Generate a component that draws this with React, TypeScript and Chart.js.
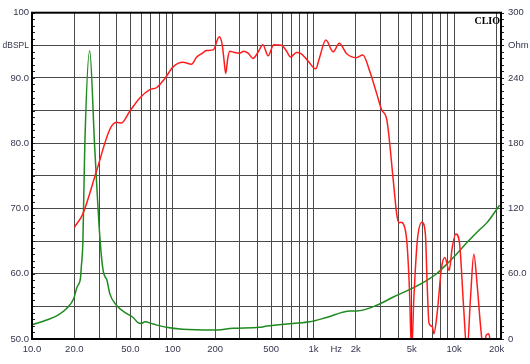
import React, { useEffect, useRef } from "react";
import { Chart, registerables } from "chart.js";

Chart.register(...registerables);

// SPL response (red), left axis dBSPL
const splFreq = [
  20, 23, 28.7, 35.7, 39.8, 43.2, 49.5, 58.2, 68.7, 76.6, 87.8, 100.5, 118, 136, 148, 160, 174, 194,
  214, 225, 232, 238, 246, 254, 275, 300, 320, 343, 372, 405, 437, 476, 522, 592, 640, 688, 757, 820,
  915, 1038, 1100, 1224, 1380, 1524, 1724, 2005, 2242, 2520, 2813, 3055, 3318, 3694, 3906, 4050, 4182,
  4360, 4600, 4800, 4980, 5170, 5470, 5900, 6240, 6410, 6620, 6990, 7170, 7560, 8130, 8580, 9200, 9680,
  10250, 10890, 11660, 12330, 13060, 13780, 14590, 15400, 16100, 16900, 17600, 18300, 19000,
];
const splDb = [
  67.1, 69.2, 75.7, 82.1, 83.2, 83.1, 84.9, 86.9, 88.2, 88.5, 89.9, 91.7, 92.4, 92.1, 93.2, 93.7, 94.2, 94.3,
  96.3, 95.0, 92.5, 90.7, 93.0, 94.1, 93.9, 93.8, 94.1, 93.8, 93.0, 94.0, 95.1, 93.4, 95.1, 95.0, 94.2, 93.2, 93.9, 93.7,
  92.6, 91.4, 93.0, 95.8, 94.0, 95.3, 93.7, 93.1, 93.5, 90.9, 87.6, 85.1, 83.6, 74.2, 69.1, 67.8, 67.9,
  67.6, 65.1, 58, 48, 56.4, 65.1, 67.9, 66.1, 59, 52.4, 51.9, 50.8, 53.9, 61.0, 62.5, 60.5, 64.0,
  66.1, 64.8, 54.9, 48, 56.4, 63.0, 58, 51.9, 48.5, 50.6, 50.8, 48.5, 47,
];

// Impedance (green), right axis Ohm
const impFreq = [
  10, 12.7, 15.3, 17.6, 19.8, 20.9, 21.6, 22.1, 22.4, 23, 23.7, 25.7, 27.9, 30.3, 32, 34.1, 35.7, 39.8,
  46.9, 52.3, 56.7, 60, 63.4, 72.5, 90, 118, 193, 269, 414, 465, 715, 941, 1238, 1823, 2030, 2813,
  3694, 5100, 6400, 7500, 8870, 10380, 12600, 15000, 17100, 21000,
];
const impOhm = [
  13, 17.4, 21.9, 28, 37.2, 47.8, 51, 56, 66, 90, 176, 265, 176, 95, 63, 54, 41.7, 31,
  23.5, 19.8, 15, 14.3, 15.8, 13.7, 10.7, 8.9, 8.2, 9.8, 10.7, 11.9, 14.3, 15.8, 19.8, 25.8, 25.8, 31,
  38.6, 47, 54, 60, 69, 78, 90, 100, 107, 123,
];

// Axis ticks
const xGridValues = [
  10, 20, 30, 40, 50, 60, 70, 80, 90, 100, 200, 300, 400, 500, 600, 700, 800, 900,
  1000, 1450, 2000, 3000, 4000, 5000, 6000, 7000, 8000, 9000, 10000, 20000,
];
const xLabelValues = [10, 20, 50, 100, 200, 500, 1000, 1450, 2000, 5000, 10000, 20000];
const xLabelTexts = ["10.0", "20.0", "50.0", "100", "200", "500", "1k", "Hz", "2k", "5k", "10k", "20k"];
const hzLabelValue = 1450;

const leftLabelValues = [100, 95, 90, 80, 70, 60, 50];
const leftLabelTexts = ["100", "dBSPL", "90.0", "80.0", "70.0", "60.0", "50.0"];
const rightLabelValues = [300, 270, 240, 180, 120, 60, 0];
const rightLabelTexts = ["300", "Ohm", "240", "180", "120", "60.0", "0"];

const FONT_FAMILY = '"Liberation Sans", Arial, sans-serif';
const FONT = { family: FONT_FAMILY, size: 9.5 };
const UNIT_FONT = { family: FONT_FAMILY, size: 8.5 };
const LABEL_COLOR = "#34364f";
const GRID_COLOR = "#4a4a4a";

const framePlugin = {
  id: "clioFrame",
  afterDraw(chart: any) {
    const { ctx, chartArea } = chart;
    const { left, right, top, bottom } = chartArea;
    const y = chart.scales.y;
    const y1 = chart.scales.y1;
    ctx.save();
    ctx.strokeStyle = "#222";
    ctx.lineWidth = 1;
    // minor ticks on left axis (inside)
    for (let v = 50; v <= 100; v += 1) {
      const py = Math.round(y.getPixelForValue(v)) + 0.5;
      ctx.beginPath();
      ctx.moveTo(left, py);
      ctx.lineTo(left + 3, py);
      ctx.stroke();
    }
    // minor ticks on right axis (outside)
    for (let v = 0; v <= 300; v += 6) {
      const py = Math.round(y1.getPixelForValue(v)) + 0.5;
      ctx.beginPath();
      ctx.moveTo(right, py);
      ctx.lineTo(right + 3, py);
      ctx.stroke();
    }
    // frame
    ctx.strokeStyle = "#000";
    ctx.lineWidth = 2;
    ctx.strokeRect(left, top, right - left, bottom - top);
    // CLIO mark
    ctx.fillStyle = "#000";
    ctx.font = 'bold 10px "Liberation Serif", "DejaVu Serif", serif';
    ctx.textAlign = "right";
    ctx.textBaseline = "top";
    ctx.fillText("CLIO", right - 1, top + 4);
    ctx.restore();
  },
};

export default function App() {
  const ref = useRef<HTMLCanvasElement | null>(null);

  useEffect(() => {
    if (!ref.current) return;
    const splData = splFreq.map((f, i) => ({ x: f, y: splDb[i] }));
    const impData = impFreq.map((f, i) => ({ x: f, y: impOhm[i] }));

    const chart = new Chart(ref.current, {
      type: "line",
      data: {
        datasets: [
          {
            label: "SPL",
            data: splData,
            borderColor: "#ff1c1c",
            borderWidth: 1.5,
            pointRadius: 0,
            cubicInterpolationMode: "monotone",
            yAxisID: "y",
          },
          {
            label: "Impedance",
            data: impData,
            borderColor: "#1f8a1f",
            borderWidth: 1.5,
            pointRadius: 0,
            cubicInterpolationMode: "monotone",
            yAxisID: "y1",
          },
        ],
      },
      options: {
        responsive: false,
        animation: false,
        devicePixelRatio: 1,
        parsing: false,
        layout: { padding: { top: 10, left: 0, right: 0, bottom: 0 } },
        plugins: {
          legend: { display: false },
          tooltip: { enabled: false },
        },
        scales: {
          x: {
            type: "logarithmic",
            min: 10,
            max: 21500,
            afterBuildTicks: (scale: any) => {
              scale.ticks = xGridValues.map((v) => ({ value: v }));
            },
            afterFit: (scale: any) => {
              scale.height = 25;
            },
            ticks: {
              autoSkip: false,
              maxRotation: 0,
              minRotation: 0,
              padding: 5,
              color: LABEL_COLOR,
              font: FONT,
              callback: (value: any) => {
                const i = xLabelValues.indexOf(Number(value));
                return i >= 0 ? xLabelTexts[i] : "";
              },
            },
            grid: {
              drawTicks: false,
              lineWidth: 1,
              color: (c: any) =>
                c.tick && (c.tick.value === hzLabelValue || c.tick.value === 10)
                  ? "rgba(0,0,0,0)"
                  : GRID_COLOR,
            },
            border: { display: false },
          },
          y: {
            type: "linear",
            position: "left",
            min: 50,
            max: 100,
            afterFit: (scale: any) => {
              scale.width = 32;
            },
            ticks: {
              stepSize: 5,
              padding: 3,
              color: LABEL_COLOR,
              font: (c: any) => (c.tick && c.tick.value === 95 ? UNIT_FONT : FONT),
              callback: (value: any) => {
                const i = leftLabelValues.indexOf(Number(value));
                return i >= 0 ? leftLabelTexts[i] : "";
              },
            },
            grid: { drawTicks: false, color: GRID_COLOR, lineWidth: 1 },
            border: { display: false },
          },
          y1: {
            type: "linear",
            position: "right",
            min: 0,
            max: 300,
            afterFit: (scale: any) => {
              scale.width = 29;
            },
            ticks: {
              stepSize: 30,
              padding: 7,
              color: LABEL_COLOR,
              font: FONT,
              callback: (value: any) => {
                const i = rightLabelValues.indexOf(Number(value));
                return i >= 0 ? rightLabelTexts[i] : "";
              },
            },
            grid: { drawTicks: false, drawOnChartArea: false },
            border: { display: false },
          },
        },
      },
      plugins: [framePlugin],
    });
    return () => chart.destroy();
  }, []);

  return (
    <div style={{ position: "fixed", left: 0, top: 0, width: 530, height: 364, background: "#fff" }}>
      <canvas ref={ref} width={530} height={364} style={{ display: "block" }} />
    </div>
  );
}
